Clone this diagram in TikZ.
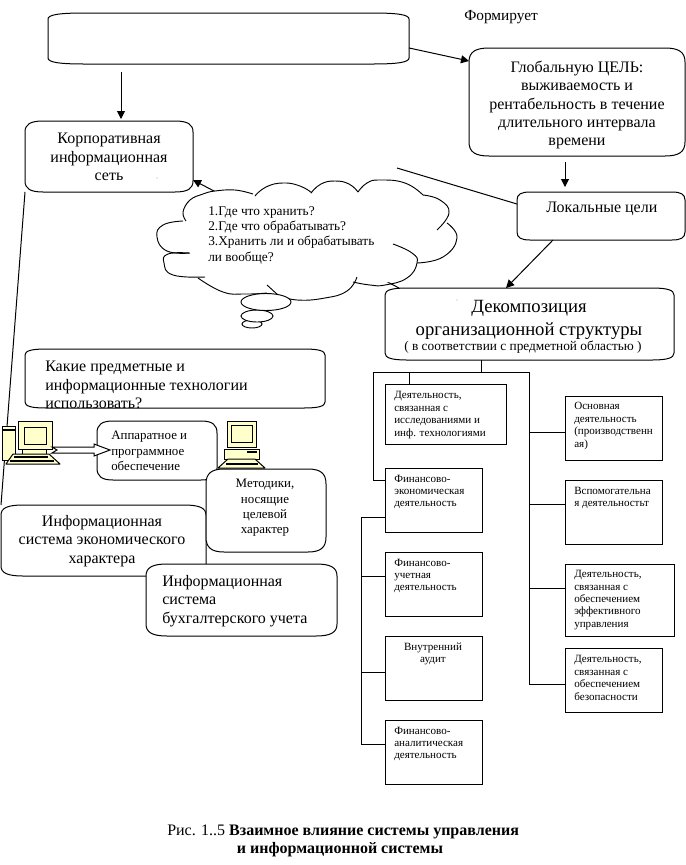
\documentclass[tikz,border=0pt]{standalone}
\usepackage{fontspec}
\setmainfont{Liberation Serif}
\usetikzlibrary{arrows.meta}
\definecolor{pcy}{HTML}{FFFFCC}
\newcommand{\myrbox}[7]{%
  \pgfmathsetmacro{\cxx}{(#2+#4)/2}\pgfmathsetmacro{\cyy}{(#3+#5)/2}%
  \pgfmathsetmacro{\wdd}{(#4-#2)*0.75}\pgfmathsetmacro{\htt}{(#5-#3)*0.75}%
  \pgfmathsetmacro{\kx}{#6*0.7}\pgfmathsetmacro{\ky}{#7*0.7}%
  \path[shp] (#2,#3+#7) .. controls (#2,#3+#7-\ky) and (#2+#6-\kx,#3) .. (#2+#6,#3)
    -- (#4-#6,#3) .. controls (#4-#6+\kx,#3) and (#4,#3+#7-\ky) .. (#4,#3+#7)
    -- (#4,#5-#7) .. controls (#4,#5-#7+\ky) and (#4-#6+\kx,#5) .. (#4-#6,#5)
    -- (#2+#6,#5) .. controls (#2+#6-\kx,#5) and (#2,#5-#7+\ky) .. (#2,#5-#7) -- cycle;
  \node[hold,minimum width=\wdd pt,minimum height=\htt pt] (#1) at (\cxx,\cyy) {};}
\newcommand{\mysqbox}[5]{%
  \pgfmathsetmacro{\cxx}{(#2+#4)/2}\pgfmathsetmacro{\cyy}{(#3+#5)/2}%
  \pgfmathsetmacro{\wdd}{(#4-#2)*0.75}\pgfmathsetmacro{\htt}{(#5-#3)*0.75}%
  \node[hold,shp,minimum width=\wdd pt,minimum height=\htt pt] (#1) at (\cxx,\cyy) {};}
\tikzset{
  shp/.style={draw=black,fill=white,line width=0.75pt},
  hold/.style={rectangle,inner sep=0pt,outer sep=0pt},
  conn/.style={draw=black,line width=0.75pt},
  arr/.style={conn,-{Triangle[length=6pt,width=6pt]}},
  lobe/.style={conn,line width=0.7pt},
  tl/.style={inner sep=0pt,anchor=west,align=left},
  tc/.style={inner sep=0pt,anchor=center,align=center},
  bigt/.style={font=\fontsize{12}{14}\selectfont},
  midt/.style={font=\fontsize{9.7}{11.5}\selectfont},
  smallt/.style={font=\fontsize{8.3}{9.3}\selectfont},
  pc/.style={draw=black,fill=pcy,line width=0.75pt},
  kb/.style={draw=black,fill=pcy,line width=0.75pt,line join=round}
}
\begin{document}
\begin{tikzpicture}[x=0.75pt,y=-0.75pt]
\useasboundingbox (0,0) rectangle (686,865);
% --- top boxes
\myrbox{top}{48}{13}{409}{64}{36}{6}
\myrbox{gl}{469}{48}{685}{156}{20}{14}
\myrbox{kor}{25}{121}{193}{192}{18}{11}
\myrbox{loc}{517}{192}{685}{240}{13}{8}
\myrbox{dec}{385}{288}{674}{360}{22}{7}
\node[tl,font=\fontsize{11.5}{14}\selectfont] (tform) at (464,17) {Формирует};
\node[tc,font=\fontsize{12}{13.7}\selectfont] (tgl) at (577,105) {Глобальную ЦЕЛЬ:\\выживаемость и\\рентабельность в течение\\длительного интервала\\времени};
\node[tc,bigt] (tkor) at (109,157) {Корпоративная\\информационная\\сеть};
\node[tl,bigt] (tloc) at (546,209) {Локальные цели};
\node[tc,font=\fontsize{14}{17}\selectfont] (tdec) at (529,320) {Декомпозиция\\организационной структуры};
\node[tc,font=\fontsize{10}{11}\selectfont] (tdec2) at (523,347) {( в соответствии с предметной областью )};
% --- connectors at the top
\coordinate (s1) at (121,72);
\draw[arr] (s1) -- ([shift={(9pt,1.5pt)}]kor.north);
\draw[arr] ([yshift=-7.1pt]top.east) -- ([yshift=30.75pt]gl.west);
\coordinate (s2) at (565,162);
\coordinate (s3) at (565,187);
\draw[arr] (s2) -- (s3);
\coordinate (s4) at (397,168);
\draw[conn] (s4) -- ([yshift=9pt]loc.west);
\draw[arr] ([xshift=-36pt]loc.south) -- ([xshift=-17.6pt]dec.north);
\draw[arr] ([xshift=10.5pt]dec.north west) -- ([yshift=9pt]kor.south east);
% --- cloud
\fill[white] plot[smooth cycle,tension=0.7] coordinates {(183,212) (190,200) (215,191) (253,194) (283,183) (311,193) (335,181) (358,192) (380,180) (405,183) (423,195) (449,213) (457,238) (443,257) (417,263) (407,278) (370,285) (347,292) (297,300) (267,293) (223,292) (198,278) (173,275) (164,263) (167,251) (157,237) (163,225)};
\draw[lobe] plot[smooth,tension=0.7] coordinates {(186,221) (183,212) (190,200) (203,194) (215,191) (235,190) (253,194)};
\draw[lobe] plot[smooth,tension=0.8] coordinates {(255,196) (266,187) (283,183) (300,186) (312,193)};
\draw[lobe] plot[smooth,tension=0.8] coordinates {(311,193) (321,184) (335,181) (349,184) (358,192)};
\draw[lobe] plot[smooth,tension=0.8] coordinates {(358,192) (367,183) (380,180) (405,183) (423,195)};
\draw[lobe] plot[smooth,tension=0.8] coordinates {(423,195) (440,200) (449,213) (437,230)};
\draw[lobe] plot[smooth,tension=0.8] coordinates {(447,223) (457,238) (443,257) (417,263)};
\draw[lobe] plot[smooth,tension=0.8] coordinates {(393,244) (412,253) (417,263) (407,278) (385,285) (370,285) (353,282)};
\draw[lobe] plot[smooth,tension=0.8] coordinates {(357,277) (347,291) (325,298) (297,300) (278,295)};
\draw[lobe] plot[smooth,tension=0.8] coordinates {(198,278) (223,292) (245,294) (267,293)};
\draw[lobe] (267,285) -- (278,295);
\draw[lobe] plot[smooth,tension=0.8] coordinates {(189,253) (168,254) (164,263) (173,275) (205,277)};
\draw[lobe] plot[smooth,tension=0.8] coordinates {(183,221) (163,225) (157,237) (167,251) (190,253)};
\draw[lobe,fill=white] (252,324) ellipse [x radius=10,y radius=4];
\draw[lobe,fill=white] (257,316) ellipse [x radius=16,y radius=6];
\draw[lobe,fill=white] (266,302) ellipse [x radius=25,y radius=8.5];
\node[tl,font=\fontsize{10}{11.5}\selectfont] (tcl) at (208,235) {1.Где что хранить?\\2.Где что обрабатывать?\\3.Хранить ли и обрабатывать\\ли вообще?};
% --- left column
\myrbox{kak}{25}{349}{325}{408}{21}{6}
\node[tl,bigt] (tkak) at (45,385) {Какие предметные и\\информационные технологии\\использовать?};
\myrbox{is}{1}{505}{206}{576}{22}{10}
\draw[conn] (kor.south west) -- (is.north west);
% computers
\draw[pc] (2,426) rectangle (15,460);
\draw[line width=1pt] (2,430) -- (15,430);
\draw[pc] (18,421) rectangle (52,449);
\draw[pc] (24,427) rectangle (46,444);
\draw[pc] (22,449) rectangle (46,454);
\draw[kb] (13,454) -- (49,454) -- (60,464) -- (6,464) -- cycle;
\fill[black] (14,456) rectangle (48,458);
\fill[black] (10,460) rectangle (54,462);
\myrbox{app}{97}{421}{217}{480}{16}{12}
\node[tl,midt] (tapp) at (111,451) {Аппаратное и\\программное\\обеспечение};
\draw[conn,fill=white] (52,447) -- (94,447) -- (94,444) -- (110,450) -- (94,456) -- (94,453) -- (52,453) -- (57,450) -- cycle;
\draw[pc] (227,421) rectangle (256,447);
\draw[pc] (231,425) rectangle (252,442);
\draw[pc] (224,449) rectangle (259,459);
\fill[black] (247,451) rectangle (257,453);
\draw[kb] (228,459) -- (255,459) -- (265,468) -- (218,468) -- cycle;
\fill[black] (226,463) rectangle (258,465);
\myrbox{met}{206}{469}{326}{552}{18}{15}
\node[tc,midt] (tmet) at (265,508) {Методики,\\носящие\\целевой\\характер};
\node[tc,bigt] (tis) at (102,541) {Информационная\\система экономического\\характера};
\myrbox{buh}{146}{564}{337}{636}{21}{12}
\node[tl,bigt] (tbuh) at (162,601) {Информационная\\система\\бухгалтерского учета};
% --- structure boxes
\mysqbox{b1}{385}{384}{506}{444}
\mysqbox{fe}{385}{468}{482}{532}
\mysqbox{fu}{385}{552}{482}{616}
\mysqbox{vn}{385}{636}{482}{700}
\mysqbox{fa}{385}{720}{482}{784}
\mysqbox{osn}{565}{396}{662}{460}
\mysqbox{vsp}{565}{480}{662}{544}
\mysqbox{eff}{565}{564}{674}{636}
\mysqbox{bez}{565}{648}{662}{712}
\coordinate (busl) at (373,372);
\coordinate (busr) at (529,372);
\coordinate (stem) at (481,372);
\coordinate (stub) at (409,372);
\coordinate (trt) at (361,517);
\coordinate (trb) at (361,744);
\coordinate (rb) at (529,684);
\draw[conn] (stem |- dec.south) -- (stem);
\draw[conn] (stub) -- (stub |- b1.north);
\draw[conn] ([yshift=15pt]fe.west) -- +(-12,0) -- (busl) -- (busr) -- (rb);
\draw[conn] ([yshift=-12.75pt]fe.west) -- (trt) -- (trb) -- ([yshift=6pt]fa.west);
\draw[conn] ([yshift=6pt]fu.west) -- +(-24,0);
\draw[conn] ([yshift=-3pt]vn.west) -- +(-24,0);
\draw[conn] ([yshift=-3pt]osn.west) -- +(-36,0);
\draw[conn] ([yshift=6pt]vsp.west) -- +(-36,0);
\draw[conn] ([yshift=9pt]eff.west) -- +(-36,0);
\draw[conn] ([yshift=-3pt]bez.west) -- +(-36,0);
\node[tl,smallt] (tb1) at (394,415) {Деятельность,\\связанная с\\исследованиями и\\инф. технологиями};
\node[tl,smallt] (tfe) at (394,492) {Финансово-\\экономическая\\деятельность};
\node[tl,smallt] (tfu) at (394,576) {Финансово-\\учетная\\деятельность};
\node[tc,smallt] (tvn) at (433,654) {Внутренний\\аудит};
\node[tl,smallt] (tfa) at (394,744) {Финансово-\\аналитическая\\деятельность};
\node[tl,smallt] (tosn) at (574,426) {Основная\\деятельность\\(производственн\\ая)};
\node[tl,smallt] (tvsp) at (574,498) {Вспомогательна\\я деятельностьт};
\node[tl,smallt] (teff) at (574,600) {Деятельность,\\связанная с\\обеспечением\\эффективного\\управления};
\node[tl,smallt] (tbez) at (574,678) {Деятельность,\\связанная с\\обеспечением\\безопасности};
% caption
\node[tl,font=\fontsize{12}{13}\selectfont] (cap1) at (167,832) {Рис. 1..5 \textbf{Взаимное влияние системы управления}};
\node[tc,font=\fontsize{12}{13}\bfseries\selectfont] (cap2) at (340,850) {и информационной системы};
\fill (157,178) circle (0.4);
\fill (457,300) circle (0.4);
\end{tikzpicture}
\end{document}
